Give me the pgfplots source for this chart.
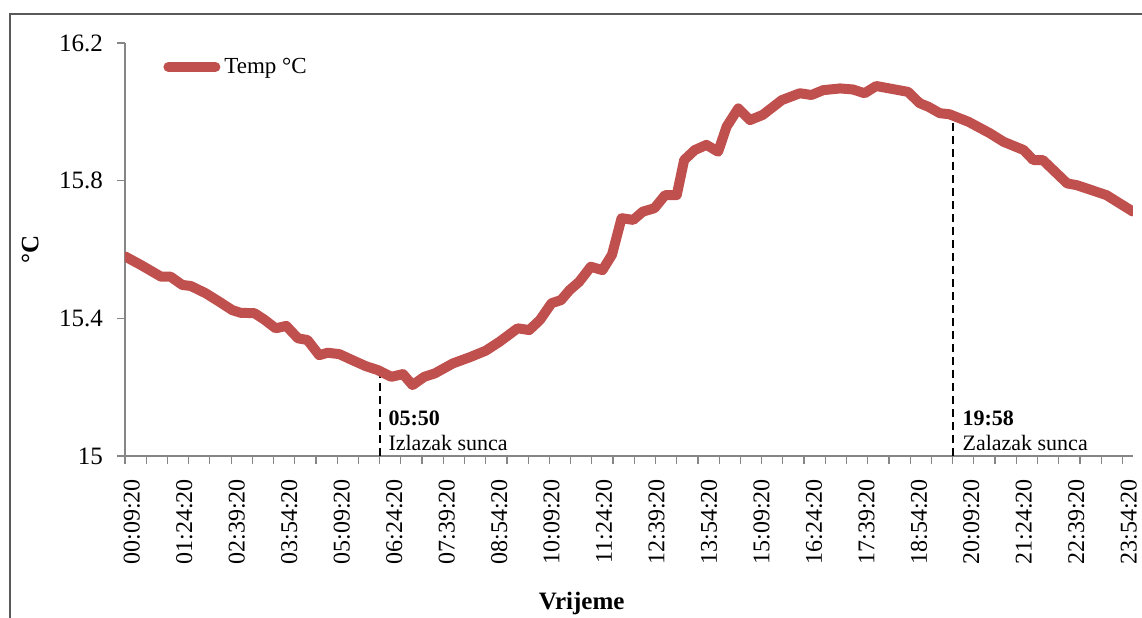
\documentclass[border=0pt]{standalone}
\usepackage{fontspec}
\setmainfont{Liberation Serif}
\usepackage{pgfplots}
\pgfplotsset{compat=1.18}
\definecolor{tempred}{HTML}{C0504D}
\definecolor{axgray}{HTML}{868686}
\definecolor{framegray}{HTML}{595959}
\begin{document}
\begin{tikzpicture}
\begin{axis}[
  scale only axis, width=504pt, height=206.5pt,
  xmin=0, xmax=95, ymin=15, ymax=16.2,
  axis lines*=left,
  axis line style={axgray, line width=0.6pt},
  tick align=outside,
  major tick length=4pt,
  tick style={axgray, line width=0.6pt},
  ytick={15,15.4,15.8,16.2}, yticklabels={15,15.4,15.8,16.2},
  yticklabel style={font=\fontsize{12.5}{15}\selectfont, xshift=-3.5pt},
  xtick={0,2,...,94}, xticklabels={},
  extra x ticks={0.65,5.60,10.54,15.49,20.43,25.38,30.32,35.27,40.21,45.16,50.10,55.05,59.99,64.94,69.88,74.83,79.77,84.72,89.66,94.61},
  extra x tick labels={00:09:20,01:24:20,02:39:20,03:54:20,05:09:20,06:24:20,07:39:20,08:54:20,10:09:20,11:24:20,12:39:20,13:54:20,15:09:20,16:24:20,17:39:20,18:54:20,20:09:20,21:24:20,22:39:20,23:54:20},
  extra x tick style={tick style={draw=none}, tick label style={yshift=-4pt, rotate=90, anchor=east, font=\fontsize{12}{14}\selectfont}},
  xlabel={\bfseries Vrijeme},
  xlabel style={at={(axis description cs:0.453,-0.358)}, anchor=center, font=\fontsize{12.5}{15}\selectfont},
  ylabel={\bfseries °C},
  ylabel style={at={(axis description cs:-0.094,0.5)}, anchor=center, rotate=0, font=\fontsize{12.5}{15}\selectfont},
  legend style={at={(axis description cs:0.0377,0.942)}, anchor=west, draw=none, fill=none, font=\fontsize{11.5}{14}\selectfont, inner sep=0pt},
  legend image code/.code={\draw[#1] (0pt,0pt) -- (23.5pt,0pt);},
]
\addplot[black, line width=1pt, dash pattern=on 4pt off 2.5pt, forget plot] coordinates {(24,15) (24,15.24)};
\addplot[black, line width=1pt, dash pattern=on 4pt off 2.5pt, forget plot] coordinates {(78,15) (78,15.975)};
\addplot[tempred, line width=5pt, line join=round, line cap=round, mark=none] coordinates {
(0,15.58) (1.5,15.555) (3.4,15.521) (4.3,15.521) (5.4,15.497) (6.2,15.494) (7.6,15.473) (8.9,15.448)
(10.1,15.424) (10.9,15.416) (12.2,15.415) (13.1,15.397) (14.2,15.371) (15.2,15.378) (16.3,15.342) (17.2,15.337)
(18.3,15.293) (19.1,15.300) (20.2,15.296) (21.4,15.279) (22.7,15.261) (23.8,15.250) (25.1,15.230) (26.2,15.238)
(27.1,15.206) (28.2,15.230) (29.2,15.240) (30.9,15.269) (32.5,15.287) (34.0,15.306) (35.3,15.332) (37.0,15.371)
(38.1,15.366) (39.1,15.395) (40.2,15.444) (41.1,15.453) (41.9,15.482) (42.8,15.506) (43.9,15.550) (45.0,15.540)
(45.9,15.585) (46.8,15.691) (47.9,15.686) (48.8,15.710) (49.9,15.720) (50.9,15.758) (52.0,15.758) (52.7,15.860)
(53.7,15.889) (54.8,15.904) (55.9,15.884) (56.7,15.957) (57.8,16.010) (58.9,15.976) (60.1,15.991) (61.9,16.034)
(63.6,16.054) (64.7,16.049) (65.8,16.063) (67.4,16.068) (68.6,16.065) (69.7,16.054) (70.8,16.075) (73.8,16.058)
(74.9,16.025) (75.7,16.015) (76.8,15.996) (77.7,15.993) (79.5,15.971) (81.5,15.938) (82.8,15.913) (84.7,15.889)
(85.6,15.860) (86.5,15.860) (88.8,15.792) (89.7,15.787) (92.5,15.758) (95,15.71)
};
\addlegendentry{Temp °C}
\node[anchor=west, inner sep=0pt, font=\fontsize{11}{13}\selectfont\bfseries] at (axis cs:24.8,15.110) {05:50};
\node[anchor=west, inner sep=0pt, font=\fontsize{11}{13}\selectfont] at (axis cs:24.8,15.038) {Izlazak sunca};
\node[anchor=west, inner sep=0pt, font=\fontsize{11}{13}\selectfont\bfseries] at (axis cs:78.9,15.110) {19:58};
\node[anchor=west, inner sep=0pt, font=\fontsize{11}{13}\selectfont] at (axis cs:78.9,15.038) {Zalazak sunca};
\coordinate (O) at (rel axis cs:0,0);
\end{axis}
\pgfresetboundingbox
\path[use as bounding box] ([shift={(-62.5pt,-80.5pt)}]O) rectangle ([shift={(508.5pt,228pt)}]O);
\draw[framegray, line width=0.75pt] ([shift={(-57.5pt,-85pt)}]O) -- ([shift={(-57.5pt,221pt)}]O) -- ([shift={(515pt,221pt)}]O);
\end{tikzpicture}
\end{document}
